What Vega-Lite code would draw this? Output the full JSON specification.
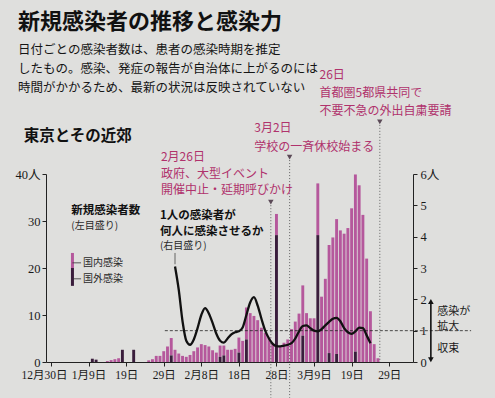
{
  "$schema": "https://vega.github.io/schema/vega-lite/v6.json",
  "width": 367,
  "height": 188,
  "autosize": {"type": "none"},
  "padding": {"left": 46, "top": 174, "right": 82, "bottom": 36},
  "background": "#dfdfdd",
  "config": {"view": {"stroke": null}, "font": "Noto Sans CJK JP"},
  "title": {
    "text": "新規感染者の推移と感染力",
    "subtitle": ["日付ごとの感染者数は、患者の感染時期を推定", "したもの。感染、発症の報告が自治体に上がるのには", "時間がかかるため、最新の状況は反映されていない"],
    "anchor": "start",
    "frame": "group",
    "dx": -28,
    "offset": -27,
    "font": "Noto Sans CJK JP",
    "fontSize": 22,
    "fontWeight": "bold",
    "color": "#111111",
    "subtitleFont": "Noto Sans CJK JP",
    "subtitleFontSize": 12.5,
    "subtitleColor": "#151515",
    "subtitleLineHeight": 19,
    "subtitlePadding": 10
  },
  "datasets": {
    "cases": [
      {"date": "2020-01-10", "kind": "国外感染", "n": 0.7},
      {"date": "2020-01-11", "kind": "国外感染", "n": 0.5},
      {"date": "2020-01-14", "kind": "国内感染", "n": 0.2},
      {"date": "2020-01-15", "kind": "国内感染", "n": 0.4},
      {"date": "2020-01-16", "kind": "国内感染", "n": 0.6},
      {"date": "2020-01-17", "kind": "国内感染", "n": 0.8},
      {"date": "2020-01-18", "kind": "国外感染", "n": 2.6},
      {"date": "2020-01-21", "kind": "国外感染", "n": 2.6},
      {"date": "2020-01-25", "kind": "国内感染", "n": 0.35},
      {"date": "2020-01-26", "kind": "国内感染", "n": 0.6},
      {"date": "2020-01-27", "kind": "国内感染", "n": 1.3},
      {"date": "2020-01-28", "kind": "国内感染", "n": 1.3},
      {"date": "2020-01-29", "kind": "国内感染", "n": 2.3},
      {"date": "2020-01-30", "kind": "国内感染", "n": 3.3},
      {"date": "2020-01-31", "kind": "国内感染", "n": 3.7},
      {"date": "2020-01-31", "kind": "国外感染", "n": 1.4},
      {"date": "2020-02-01", "kind": "国内感染", "n": 2.6},
      {"date": "2020-02-02", "kind": "国内感染", "n": 1.8},
      {"date": "2020-02-03", "kind": "国内感染", "n": 1.3},
      {"date": "2020-02-04", "kind": "国内感染", "n": 1.1},
      {"date": "2020-02-05", "kind": "国内感染", "n": 1.5},
      {"date": "2020-02-06", "kind": "国内感染", "n": 2.3},
      {"date": "2020-02-07", "kind": "国内感染", "n": 3.1},
      {"date": "2020-02-08", "kind": "国内感染", "n": 3.8},
      {"date": "2020-02-09", "kind": "国内感染", "n": 3.6},
      {"date": "2020-02-10", "kind": "国内感染", "n": 3.3},
      {"date": "2020-02-11", "kind": "国内感染", "n": 2.5},
      {"date": "2020-02-12", "kind": "国内感染", "n": 2.0},
      {"date": "2020-02-13", "kind": "国内感染", "n": 2.4},
      {"date": "2020-02-13", "kind": "国外感染", "n": 1.1},
      {"date": "2020-02-14", "kind": "国内感染", "n": 2.1},
      {"date": "2020-02-14", "kind": "国外感染", "n": 1.4},
      {"date": "2020-02-15", "kind": "国内感染", "n": 2.6},
      {"date": "2020-02-16", "kind": "国内感染", "n": 2.6},
      {"date": "2020-02-17", "kind": "国内感染", "n": 2.8},
      {"date": "2020-02-18", "kind": "国内感染", "n": 3.2},
      {"date": "2020-02-18", "kind": "国外感染", "n": 2.0},
      {"date": "2020-02-19", "kind": "国内感染", "n": 4.5},
      {"date": "2020-02-20", "kind": "国内感染", "n": 6.8},
      {"date": "2020-02-20", "kind": "国外感染", "n": 4.8},
      {"date": "2020-02-21", "kind": "国内感染", "n": 10.4},
      {"date": "2020-02-22", "kind": "国内感染", "n": 9.8},
      {"date": "2020-02-23", "kind": "国内感染", "n": 8.9},
      {"date": "2020-02-24", "kind": "国内感染", "n": 7.3},
      {"date": "2020-02-25", "kind": "国内感染", "n": 6.2},
      {"date": "2020-02-26", "kind": "国内感染", "n": 5.2},
      {"date": "2020-02-27", "kind": "国内感染", "n": 3.8},
      {"date": "2020-02-28", "kind": "国内感染", "n": 4.5},
      {"date": "2020-02-28", "kind": "国外感染", "n": 27.0},
      {"date": "2020-02-29", "kind": "国内感染", "n": 3.4},
      {"date": "2020-03-01", "kind": "国内感染", "n": 4.1},
      {"date": "2020-03-02", "kind": "国内感染", "n": 4.8},
      {"date": "2020-03-03", "kind": "国内感染", "n": 7.0},
      {"date": "2020-03-04", "kind": "国内感染", "n": 8.6},
      {"date": "2020-03-05", "kind": "国内感染", "n": 10.3},
      {"date": "2020-03-06", "kind": "国内感染", "n": 10.7},
      {"date": "2020-03-06", "kind": "国外感染", "n": 5.6},
      {"date": "2020-03-07", "kind": "国内感染", "n": 10.4},
      {"date": "2020-03-08", "kind": "国内感染", "n": 9.3},
      {"date": "2020-03-09", "kind": "国内感染", "n": 9.3},
      {"date": "2020-03-10", "kind": "国内感染", "n": 11.0},
      {"date": "2020-03-10", "kind": "国外感染", "n": 27.0},
      {"date": "2020-03-11", "kind": "国内感染", "n": 13.9},
      {"date": "2020-03-12", "kind": "国内感染", "n": 17.7},
      {"date": "2020-03-13", "kind": "国内感染", "n": 23.0},
      {"date": "2020-03-13", "kind": "国外感染", "n": 1.9},
      {"date": "2020-03-14", "kind": "国内感染", "n": 26.5},
      {"date": "2020-03-15", "kind": "国内感染", "n": 28.7},
      {"date": "2020-03-15", "kind": "国外感染", "n": 1.7},
      {"date": "2020-03-16", "kind": "国内感染", "n": 28.0},
      {"date": "2020-03-17", "kind": "国内感染", "n": 27.3},
      {"date": "2020-03-18", "kind": "国内感染", "n": 28.5},
      {"date": "2020-03-19", "kind": "国内感染", "n": 32.7},
      {"date": "2020-03-20", "kind": "国内感染", "n": 37.7},
      {"date": "2020-03-20", "kind": "国外感染", "n": 2.2},
      {"date": "2020-03-21", "kind": "国内感染", "n": 37.6},
      {"date": "2020-03-22", "kind": "国内感染", "n": 31.3},
      {"date": "2020-03-23", "kind": "国内感染", "n": 22.0},
      {"date": "2020-03-24", "kind": "国内感染", "n": 10.8},
      {"date": "2020-03-25", "kind": "国内感染", "n": 3.8},
      {"date": "2020-03-26", "kind": "国内感染", "n": 0.8}
    ],
    "rt": [
      {"date": "2020-02-01", "r": 3.05}, {"date": "2020-02-02", "r": 2.3}, {"date": "2020-02-03", "r": 1.3},
      {"date": "2020-02-04", "r": 0.68}, {"date": "2020-02-05", "r": 0.55}, {"date": "2020-02-06", "r": 0.72},
      {"date": "2020-02-07", "r": 1.08}, {"date": "2020-02-08", "r": 1.5}, {"date": "2020-02-09", "r": 1.72},
      {"date": "2020-02-10", "r": 1.55}, {"date": "2020-02-11", "r": 1.25}, {"date": "2020-02-12", "r": 0.9},
      {"date": "2020-02-13", "r": 0.68}, {"date": "2020-02-14", "r": 0.62}, {"date": "2020-02-15", "r": 0.75},
      {"date": "2020-02-16", "r": 0.88}, {"date": "2020-02-17", "r": 0.95}, {"date": "2020-02-18", "r": 0.98},
      {"date": "2020-02-19", "r": 1.1}, {"date": "2020-02-20", "r": 1.5}, {"date": "2020-02-21", "r": 1.9},
      {"date": "2020-02-22", "r": 2.07}, {"date": "2020-02-23", "r": 1.8}, {"date": "2020-02-24", "r": 1.38},
      {"date": "2020-02-25", "r": 1.0}, {"date": "2020-02-26", "r": 0.75}, {"date": "2020-02-27", "r": 0.58},
      {"date": "2020-02-28", "r": 0.51}, {"date": "2020-02-29", "r": 0.5}, {"date": "2020-03-01", "r": 0.52},
      {"date": "2020-03-02", "r": 0.55}, {"date": "2020-03-03", "r": 0.6}, {"date": "2020-03-04", "r": 0.75},
      {"date": "2020-03-05", "r": 0.98}, {"date": "2020-03-06", "r": 1.15}, {"date": "2020-03-07", "r": 1.17},
      {"date": "2020-03-08", "r": 1.08}, {"date": "2020-03-09", "r": 1.0}, {"date": "2020-03-10", "r": 0.98},
      {"date": "2020-03-11", "r": 1.05}, {"date": "2020-03-12", "r": 1.17}, {"date": "2020-03-13", "r": 1.28},
      {"date": "2020-03-14", "r": 1.38}, {"date": "2020-03-15", "r": 1.41}, {"date": "2020-03-16", "r": 1.3},
      {"date": "2020-03-17", "r": 1.08}, {"date": "2020-03-18", "r": 0.95}, {"date": "2020-03-19", "r": 0.9},
      {"date": "2020-03-20", "r": 0.98}, {"date": "2020-03-21", "r": 1.1}, {"date": "2020-03-22", "r": 1.08},
      {"date": "2020-03-23", "r": 0.85}, {"date": "2020-03-24", "r": 0.6}
    ],
    "events": [
      {"date": "2020-02-26T12:00:00Z", "top": 34.0, "bottom": -7.6},
      {"date": "2020-03-02T12:00:00Z", "top": 43.6, "bottom": -7.6},
      {"date": "2020-03-26T12:00:00Z", "top": 51.1, "bottom": 0}
    ],
    "eventNotes": [
      {"date": "2020-03-10T11:00:00Z", "v": 61.1, "text": "26日"},
      {"date": "2020-03-10T11:00:00Z", "v": 57.2, "text": "首都圏5都県共同で"},
      {"date": "2020-03-10T11:00:00Z", "v": 53.4, "text": "不要不急の外出自粛要請"},
      {"date": "2020-02-22T02:00:00Z", "v": 49.8, "text": "3月2日"},
      {"date": "2020-02-22T02:00:00Z", "v": 45.7, "text": "学校の一斉休校始まる"},
      {"date": "2020-01-28T06:00:00Z", "v": 43.6, "text": "2月26日"},
      {"date": "2020-01-28T06:00:00Z", "v": 40.0, "text": "政府、大型イベント"},
      {"date": "2020-01-28T06:00:00Z", "v": 36.6, "text": "開催中止・延期呼びかけ"}
    ],
    "boldNotes": [
      {"date": "2020-01-28T00:00:00Z", "v": 31.0, "text": "1人の感染者が"},
      {"date": "2020-01-28T00:00:00Z", "v": 27.6, "text": "何人に感染させるか"},
      {"date": "2020-01-04T10:00:00Z", "v": 32.1, "text": "新規感染者数"}
    ],
    "smallNotes": [
      {"date": "2020-01-28T00:00:00Z", "v": 24.6, "text": "(右目盛り)"},
      {"date": "2020-01-04T10:00:00Z", "v": 28.9, "text": "(左目盛り)"},
      {"date": "2020-01-07T13:00:00Z", "v": 21.1, "text": "国内感染"},
      {"date": "2020-01-07T13:00:00Z", "v": 17.7, "text": "国外感染"}
    ],
    "heading": [
      {"date": "2019-12-22T18:00:00Z", "v": 48.0, "text": "東京とその近郊"}
    ],
    "legendBar": [
      {"kind": "国内感染", "date": "2020-01-04T17:00:00Z", "v1": 23.2, "v2": 20.0},
      {"kind": "国外感染", "date": "2020-01-04T17:00:00Z", "v1": 20.0, "v2": 16.2}
    ],
    "legendLink": [
      {"start": "2020-01-04T17:00:00Z", "end": "2020-01-07T00:00:00Z", "v": 21.1},
      {"start": "2020-01-04T17:00:00Z", "end": "2020-01-07T00:00:00Z", "v": 17.7}
    ],
    "threshold": [
      {"start": "2020-01-29T07:00:00Z", "end": "2020-04-19T19:00:00Z", "r": 1}
    ],
    "leader": [
      {"date": "2020-02-01", "r1": 3.12, "r2": 3.48}
    ],
    "arrow": [
      {"date": "2020-04-09T02:00:00Z", "r1": 0.08, "r2": 1.92}
    ],
    "arrowHeads": [
      {"date": "2020-04-09T02:00:00Z", "r": 1.93, "dir": "up"},
      {"date": "2020-04-09T02:00:00Z", "r": 0.07, "dir": "down"}
    ],
    "rightNotes": [
      {"date": "2020-04-10T19:00:00Z", "r": 1.6, "text": "感染が"},
      {"date": "2020-04-10T19:00:00Z", "r": 1.12, "text": "拡大"},
      {"date": "2020-04-10T19:00:00Z", "r": 0.41, "text": "収束"}
    ]
  },
  "layer": [
    {
      "layer": [
        {
          "data": {"name": "cases"},
          "mark": {"type": "bar", "size": 2.9},
          "encoding": {
            "x": {
              "field": "date", "type": "temporal", "title": null,
              "scale": {"type": "utc", "domain": [{"year": 2019, "month": 12, "date": 30, "utc": true}, {"year": 2020, "month": 4, "date": 3, "utc": true}]},
              "axis": {
                "values": [
                  {"year": 2019, "month": 12, "date": 30, "utc": true},
                  {"year": 2020, "month": 1, "date": 9, "utc": true},
                  {"year": 2020, "month": 1, "date": 19, "utc": true},
                  {"year": 2020, "month": 1, "date": 29, "utc": true},
                  {"year": 2020, "month": 2, "date": 8, "utc": true},
                  {"year": 2020, "month": 2, "date": 18, "utc": true},
                  {"year": 2020, "month": 2, "date": 28, "utc": true},
                  {"year": 2020, "month": 3, "date": 9, "utc": true},
                  {"year": 2020, "month": 3, "date": 19, "utc": true},
                  {"year": 2020, "month": 3, "date": 29, "utc": true}
                ],
                "labelExpr": "((utcdate(datum.value) <= 9 || utcmonth(datum.value) == 11) ? (utcmonth(datum.value) + 1) + '月' : '') + utcdate(datum.value) + '日'",
                "labelOffset": {"condition": {"test": "utcmonth(datum.value) == 11", "value": -7}, "value": 0},
                "grid": false, "tickSize": 4, "labelPadding": 3,
                "labelFont": "Liberation Serif, Noto Sans CJK JP", "labelFontSize": 11.5, "labelColor": "#1a1a1a",
                "domainColor": "#222222", "tickColor": "#222222", "labelOverlap": false, "labelFlush": false
              }
            },
            "y": {
              "field": "n", "type": "quantitative", "stack": "zero", "title": null,
              "scale": {"domain": [0, 40], "nice": false},
              "axis": {"orient": "left", "values": [0, 10, 20, 30, 40], "grid": false, "labelExpr": "datum.value == 40 ? '40人' : datum.label", "tickSize": 4, "labelPadding": 2, "labelOverlap": false, "labelFont": "Liberation Serif, Noto Sans CJK JP", "labelFontSize": 12.5, "labelColor": "#1a1a1a", "domainColor": "#222222", "tickColor": "#222222"}
            },
            "color": {"field": "kind", "type": "nominal", "legend": null,
              "scale": {"domain": ["国内感染", "国外感染"], "range": ["#b5589c", "#3a1d3c"]}},
            "order": {"field": "kind", "sort": "descending"}
          }
        },
        {
          "data": {"name": "events"},
          "mark": {"type": "rule", "color": "#555555", "strokeWidth": 0.9, "strokeDash": [1, 2]},
          "encoding": {
            "x": {"field": "date", "type": "temporal", "title": null,
              "scale": {"type": "utc", "domain": [{"year": 2019, "month": 12, "date": 30, "utc": true}, {"year": 2020, "month": 4, "date": 3, "utc": true}]}},
            "y": {"field": "top", "type": "quantitative", "title": null, "scale": {"domain": [0, 40], "nice": false},
              "axis": {"orient": "left", "values": [0, 10, 20, 30, 40], "grid": false, "labelExpr": "datum.value == 40 ? '40人' : datum.label", "tickSize": 4, "labelPadding": 2, "labelOverlap": false, "labelFont": "Liberation Serif, Noto Sans CJK JP", "labelFontSize": 12.5, "labelColor": "#1a1a1a", "domainColor": "#222222", "tickColor": "#222222"}},
            "y2": {"field": "bottom"}
          }
        },
        {
          "data": {"name": "events"},
          "mark": {"type": "point", "shape": "triangle-down", "filled": true, "size": 30, "color": "#5b4a57", "opacity": 1},
          "encoding": {
            "x": {"field": "date", "type": "temporal", "title": null,
              "scale": {"type": "utc", "domain": [{"year": 2019, "month": 12, "date": 30, "utc": true}, {"year": 2020, "month": 4, "date": 3, "utc": true}]}},
            "y": {"field": "top", "type": "quantitative", "title": null, "scale": {"domain": [0, 40], "nice": false},
              "axis": {"orient": "left", "values": [0, 10, 20, 30, 40], "grid": false, "labelExpr": "datum.value == 40 ? '40人' : datum.label", "tickSize": 4, "labelPadding": 2, "labelOverlap": false, "labelFont": "Liberation Serif, Noto Sans CJK JP", "labelFontSize": 12.5, "labelColor": "#1a1a1a", "domainColor": "#222222", "tickColor": "#222222"}}
          }
        },
        {
          "data": {"name": "eventNotes"},
          "mark": {"type": "text", "align": "left", "baseline": "middle", "fontSize": 12, "color": "#b0326c", "font": "Noto Sans CJK JP"},
          "encoding": {
            "x": {"field": "date", "type": "temporal", "title": null,
              "scale": {"type": "utc", "domain": [{"year": 2019, "month": 12, "date": 30, "utc": true}, {"year": 2020, "month": 4, "date": 3, "utc": true}]}},
            "y": {"field": "v", "type": "quantitative", "title": null, "scale": {"domain": [0, 40], "nice": false},
              "axis": {"orient": "left", "values": [0, 10, 20, 30, 40], "grid": false, "labelExpr": "datum.value == 40 ? '40人' : datum.label", "tickSize": 4, "labelPadding": 2, "labelOverlap": false, "labelFont": "Liberation Serif, Noto Sans CJK JP", "labelFontSize": 12.5, "labelColor": "#1a1a1a", "domainColor": "#222222", "tickColor": "#222222"}},
            "text": {"field": "text"}
          }
        },
        {
          "data": {"name": "boldNotes"},
          "mark": {"type": "text", "align": "left", "baseline": "middle", "fontSize": 11.5, "fontWeight": "bold", "color": "#111111", "font": "Noto Sans CJK JP"},
          "encoding": {
            "x": {"field": "date", "type": "temporal", "title": null,
              "scale": {"type": "utc", "domain": [{"year": 2019, "month": 12, "date": 30, "utc": true}, {"year": 2020, "month": 4, "date": 3, "utc": true}]}},
            "y": {"field": "v", "type": "quantitative", "title": null, "scale": {"domain": [0, 40], "nice": false},
              "axis": {"orient": "left", "values": [0, 10, 20, 30, 40], "grid": false, "labelExpr": "datum.value == 40 ? '40人' : datum.label", "tickSize": 4, "labelPadding": 2, "labelOverlap": false, "labelFont": "Liberation Serif, Noto Sans CJK JP", "labelFontSize": 12.5, "labelColor": "#1a1a1a", "domainColor": "#222222", "tickColor": "#222222"}},
            "text": {"field": "text"}
          }
        },
        {
          "data": {"name": "smallNotes"},
          "mark": {"type": "text", "align": "left", "baseline": "middle", "fontSize": 10, "color": "#2a2a2a", "font": "Noto Sans CJK JP"},
          "encoding": {
            "x": {"field": "date", "type": "temporal", "title": null,
              "scale": {"type": "utc", "domain": [{"year": 2019, "month": 12, "date": 30, "utc": true}, {"year": 2020, "month": 4, "date": 3, "utc": true}]}},
            "y": {"field": "v", "type": "quantitative", "title": null, "scale": {"domain": [0, 40], "nice": false},
              "axis": {"orient": "left", "values": [0, 10, 20, 30, 40], "grid": false, "labelExpr": "datum.value == 40 ? '40人' : datum.label", "tickSize": 4, "labelPadding": 2, "labelOverlap": false, "labelFont": "Liberation Serif, Noto Sans CJK JP", "labelFontSize": 12.5, "labelColor": "#1a1a1a", "domainColor": "#222222", "tickColor": "#222222"}},
            "text": {"field": "text"}
          }
        },
        {
          "data": {"name": "heading"},
          "mark": {"type": "text", "align": "left", "baseline": "middle", "fontSize": 15.5, "fontWeight": "bold", "color": "#111111", "font": "Noto Sans CJK JP"},
          "encoding": {
            "x": {"field": "date", "type": "temporal", "title": null,
              "scale": {"type": "utc", "domain": [{"year": 2019, "month": 12, "date": 30, "utc": true}, {"year": 2020, "month": 4, "date": 3, "utc": true}]}},
            "y": {"field": "v", "type": "quantitative", "title": null, "scale": {"domain": [0, 40], "nice": false},
              "axis": {"orient": "left", "values": [0, 10, 20, 30, 40], "grid": false, "labelExpr": "datum.value == 40 ? '40人' : datum.label", "tickSize": 4, "labelPadding": 2, "labelOverlap": false, "labelFont": "Liberation Serif, Noto Sans CJK JP", "labelFontSize": 12.5, "labelColor": "#1a1a1a", "domainColor": "#222222", "tickColor": "#222222"}},
            "text": {"field": "text"}
          }
        },
        {
          "data": {"name": "legendBar"},
          "mark": {"type": "rule", "strokeWidth": 3},
          "encoding": {
            "x": {"field": "date", "type": "temporal", "title": null,
              "scale": {"type": "utc", "domain": [{"year": 2019, "month": 12, "date": 30, "utc": true}, {"year": 2020, "month": 4, "date": 3, "utc": true}]}},
            "y": {"field": "v1", "type": "quantitative", "title": null, "scale": {"domain": [0, 40], "nice": false},
              "axis": {"orient": "left", "values": [0, 10, 20, 30, 40], "grid": false, "labelExpr": "datum.value == 40 ? '40人' : datum.label", "tickSize": 4, "labelPadding": 2, "labelOverlap": false, "labelFont": "Liberation Serif, Noto Sans CJK JP", "labelFontSize": 12.5, "labelColor": "#1a1a1a", "domainColor": "#222222", "tickColor": "#222222"}},
            "y2": {"field": "v2"},
            "color": {"field": "kind", "type": "nominal", "legend": null,
              "scale": {"domain": ["国内感染", "国外感染"], "range": ["#b5589c", "#3a1d3c"]}}
          }
        },
        {
          "data": {"name": "legendLink"},
          "mark": {"type": "rule", "strokeWidth": 0.8, "color": "#333333"},
          "encoding": {
            "x": {"field": "start", "type": "temporal", "title": null,
              "scale": {"type": "utc", "domain": [{"year": 2019, "month": 12, "date": 30, "utc": true}, {"year": 2020, "month": 4, "date": 3, "utc": true}]}},
            "x2": {"field": "end"},
            "y": {"field": "v", "type": "quantitative", "title": null, "scale": {"domain": [0, 40], "nice": false},
              "axis": {"orient": "left", "values": [0, 10, 20, 30, 40], "grid": false, "labelExpr": "datum.value == 40 ? '40人' : datum.label", "tickSize": 4, "labelPadding": 2, "labelOverlap": false, "labelFont": "Liberation Serif, Noto Sans CJK JP", "labelFontSize": 12.5, "labelColor": "#1a1a1a", "domainColor": "#222222", "tickColor": "#222222"}}
          }
        }
      ]
    },
    {
      "layer": [
        {
          "data": {"name": "threshold"},
          "mark": {"type": "rule", "color": "#222222", "strokeWidth": 0.8, "strokeDash": [3, 2]},
          "encoding": {
            "x": {"field": "start", "type": "temporal", "title": null,
              "scale": {"type": "utc", "domain": [{"year": 2019, "month": 12, "date": 30, "utc": true}, {"year": 2020, "month": 4, "date": 3, "utc": true}]}},
            "x2": {"field": "end"},
            "y": {"field": "r", "type": "quantitative", "title": null, "scale": {"domain": [0, 6], "nice": false},
              "axis": {"orient": "right", "values": [0, 1, 2, 3, 4, 5, 6], "grid": false, "labelExpr": "datum.value == 6 ? '6人' : datum.label", "tickSize": 4, "labelPadding": 3, "labelOverlap": false, "labelFont": "Liberation Serif, Noto Sans CJK JP", "labelFontSize": 12.5, "labelColor": "#1a1a1a", "domainColor": "#222222", "tickColor": "#222222"}}
          }
        },
        {
          "data": {"name": "rt"},
          "mark": {"type": "line", "interpolate": "monotone", "color": "#111111", "strokeWidth": 2.3},
          "encoding": {
            "x": {"field": "date", "type": "temporal", "title": null,
              "scale": {"type": "utc", "domain": [{"year": 2019, "month": 12, "date": 30, "utc": true}, {"year": 2020, "month": 4, "date": 3, "utc": true}]}},
            "y": {"field": "r", "type": "quantitative", "title": null, "scale": {"domain": [0, 6], "nice": false},
              "axis": {"orient": "right", "values": [0, 1, 2, 3, 4, 5, 6], "grid": false, "labelExpr": "datum.value == 6 ? '6人' : datum.label", "tickSize": 4, "labelPadding": 3, "labelOverlap": false, "labelFont": "Liberation Serif, Noto Sans CJK JP", "labelFontSize": 12.5, "labelColor": "#1a1a1a", "domainColor": "#222222", "tickColor": "#222222"}}
          }
        },
        {
          "data": {"name": "leader"},
          "mark": {"type": "rule", "color": "#444444", "strokeWidth": 0.8},
          "encoding": {
            "x": {"field": "date", "type": "temporal", "title": null,
              "scale": {"type": "utc", "domain": [{"year": 2019, "month": 12, "date": 30, "utc": true}, {"year": 2020, "month": 4, "date": 3, "utc": true}]}},
            "y": {"field": "r1", "type": "quantitative", "title": null, "scale": {"domain": [0, 6], "nice": false},
              "axis": {"orient": "right", "values": [0, 1, 2, 3, 4, 5, 6], "grid": false, "labelExpr": "datum.value == 6 ? '6人' : datum.label", "tickSize": 4, "labelPadding": 3, "labelOverlap": false, "labelFont": "Liberation Serif, Noto Sans CJK JP", "labelFontSize": 12.5, "labelColor": "#1a1a1a", "domainColor": "#222222", "tickColor": "#222222"}},
            "y2": {"field": "r2"}
          }
        },
        {
          "data": {"name": "arrow"},
          "mark": {"type": "rule", "color": "#111111", "strokeWidth": 1.6},
          "encoding": {
            "x": {"field": "date", "type": "temporal", "title": null,
              "scale": {"type": "utc", "domain": [{"year": 2019, "month": 12, "date": 30, "utc": true}, {"year": 2020, "month": 4, "date": 3, "utc": true}]}},
            "y": {"field": "r1", "type": "quantitative", "title": null, "scale": {"domain": [0, 6], "nice": false},
              "axis": {"orient": "right", "values": [0, 1, 2, 3, 4, 5, 6], "grid": false, "labelExpr": "datum.value == 6 ? '6人' : datum.label", "tickSize": 4, "labelPadding": 3, "labelOverlap": false, "labelFont": "Liberation Serif, Noto Sans CJK JP", "labelFontSize": 12.5, "labelColor": "#1a1a1a", "domainColor": "#222222", "tickColor": "#222222"}},
            "y2": {"field": "r2"}
          }
        },
        {
          "data": {"name": "arrowHeads"},
          "mark": {"type": "point", "filled": true, "size": 32, "color": "#111111", "opacity": 1},
          "encoding": {
            "x": {"field": "date", "type": "temporal", "title": null,
              "scale": {"type": "utc", "domain": [{"year": 2019, "month": 12, "date": 30, "utc": true}, {"year": 2020, "month": 4, "date": 3, "utc": true}]}},
            "y": {"field": "r", "type": "quantitative", "title": null, "scale": {"domain": [0, 6], "nice": false},
              "axis": {"orient": "right", "values": [0, 1, 2, 3, 4, 5, 6], "grid": false, "labelExpr": "datum.value == 6 ? '6人' : datum.label", "tickSize": 4, "labelPadding": 3, "labelOverlap": false, "labelFont": "Liberation Serif, Noto Sans CJK JP", "labelFontSize": 12.5, "labelColor": "#1a1a1a", "domainColor": "#222222", "tickColor": "#222222"}},
            "shape": {"field": "dir", "type": "nominal", "legend": null,
              "scale": {"domain": ["up", "down"], "range": ["triangle-up", "triangle-down"]}}
          }
        },
        {
          "data": {"name": "rightNotes"},
          "mark": {"type": "text", "align": "left", "baseline": "middle", "fontSize": 11, "color": "#1a1a1a", "font": "Noto Sans CJK JP"},
          "encoding": {
            "x": {"field": "date", "type": "temporal", "title": null,
              "scale": {"type": "utc", "domain": [{"year": 2019, "month": 12, "date": 30, "utc": true}, {"year": 2020, "month": 4, "date": 3, "utc": true}]}},
            "y": {"field": "r", "type": "quantitative", "title": null, "scale": {"domain": [0, 6], "nice": false},
              "axis": {"orient": "right", "values": [0, 1, 2, 3, 4, 5, 6], "grid": false, "labelExpr": "datum.value == 6 ? '6人' : datum.label", "tickSize": 4, "labelPadding": 3, "labelOverlap": false, "labelFont": "Liberation Serif, Noto Sans CJK JP", "labelFontSize": 12.5, "labelColor": "#1a1a1a", "domainColor": "#222222", "tickColor": "#222222"}},
            "text": {"field": "text"}
          }
        }
      ]
    }
  ],
  "resolve": {"scale": {"y": "independent"}, "axis": {"y": "independent"}}
}
